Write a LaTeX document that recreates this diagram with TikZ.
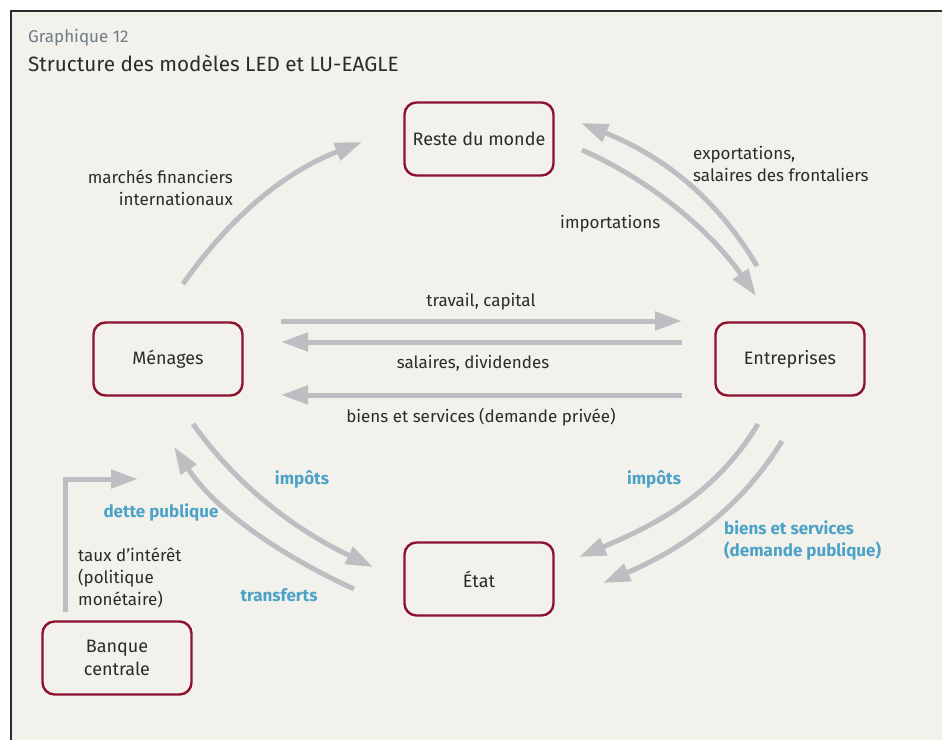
\documentclass[tikz,border=0pt]{standalone}
\usepackage{fontspec}
\setmainfont{Fira Sans}
\usepackage{xcolor}
\usetikzlibrary{arrows.meta,positioning}

\definecolor{fond}{HTML}{F2F1EB}
\definecolor{bordeaux}{HTML}{8C1230}
\definecolor{gris}{HTML}{BDBEC1}
\definecolor{bleu}{HTML}{4DA2C8}
\definecolor{encre}{HTML}{2B2B2B}
\definecolor{grisbleu}{HTML}{6F7C86}

\tikzset{
  boite/.style={rectangle,rounded corners=12pt,draw=bordeaux,line width=2.4pt,
    minimum width=149pt,minimum height=73pt,align=center,text=encre,
    font=\fontsize{18}{23}\selectfont},
  fleche/.style={draw=gris,line width=5pt,-{Triangle[length=27pt,width=18pt]}},
  texte/.style={text=encre,font=\fontsize{17}{22}\selectfont,inner sep=0pt},
  texteb/.style={text=bleu,font=\fontsize{17}{22}\selectfont\bfseries,inner sep=0pt}
}

\begin{document}
\begin{tikzpicture}[x=1pt,y=-1pt]
\useasboundingbox (0,0) rectangle (942,740);
\fill[white] (0,0) rectangle (942,740);
\fill[fond] (11,11) rectangle (942,740);
\draw[line width=2.5pt,encre] (11,740) -- (11,11) -- (942,11);

% titre
\node[anchor=west,text=grisbleu,font=\fontsize{17}{18}\selectfont,inner sep=0pt] (num) at (28,38) {Graphique 12};
\node[anchor=west,text=encre,font=\fontsize{20.7}{22}\selectfont,inner sep=0pt] (titre) at (28,63) {Structure des modèles LED et LU-EAGLE};

% acteurs
\node[boite] (rm) at (479,139) {Reste du monde};
\node[boite] (men) at (168,359) {Ménages};
\node[boite] (ent) at (790,359) {Entreprises};
\node[boite] (etat) at (479,579) {État};
\node[boite] (bc) at (117,658) {Banque\\centrale};

% extremites des fleches
\coordinate (a1) at (183,284);  \coordinate (b1) at (362,142);
\coordinate (a2) at (757,266);  \coordinate (b2) at (581,123);
\coordinate (a3) at (582,150);  \coordinate (b3) at (756,296);
\coordinate (a4) at (281,321);  \coordinate (b4) at (682,321);
\coordinate (a5) at (682,342);  \coordinate (b5) at (281,342);
\coordinate (a6) at (682,395);  \coordinate (b6) at (281,395);
\coordinate (a7) at (758,424);  \coordinate (b7) at (579,557);
\coordinate (a8) at (782,441);  \coordinate (b8) at (603,583);
\coordinate (a9) at (193,424);  \coordinate (b9) at (373,567);
\coordinate (a10) at (354,589); \coordinate (b10) at (174,447);
\coordinate (a11) at (65,612);  \coordinate (c11) at (65,479); \coordinate (b11) at (138,479);

% flux
\draw[fleche] (a1) .. controls (235,210) and (290,170) .. (b1);
\draw[fleche] (a2) .. controls (715,195) and (660,155) .. (b2);
\draw[fleche] (a3) .. controls (650,180) and (710,230) .. (b3);
\draw[fleche] (a4) -- (b4);
\draw[fleche] (a5) -- (b5);
\draw[fleche] (a6) -- (b6);
\draw[fleche] (a7) .. controls (715,495) and (655,525) .. (b7);
\draw[fleche] (a8) .. controls (740,510) and (680,550) .. (b8);
\draw[fleche] (a9) .. controls (240,490) and (300,532) .. (b9);
\draw[fleche] (a10) .. controls (280,555) and (215,510) .. (b10);
\draw[fleche] (a11) -- (c11) -- (b11);

% etiquettes
\node[texte,align=right,anchor=east] (lmf) at (233,188) {marchés financiers\\internationaux};
\node[texte,align=left,anchor=west] (lexp) at (693,164) {exportations,\\salaires des frontaliers};
\node[texte,anchor=west] (limp) at (560,224) {importations};
\node[texte] (ltc) at (481,302) {travail, capital};
\node[texte] (lsd) at (473,363) {salaires, dividendes};
\node[texte] (lbs) at (481,417) {biens et services (demande privée)};
\node[texteb] (limpg) at (302,479) {impôts};
\node[texteb] (limpd) at (654,479) {impôts};
\node[texteb,align=left,anchor=west] (lbsp) at (724,540) {biens et services\\(demande publique)};
\node[texteb] (ldp) at (161,512) {dette publique};
\node[texteb] (ltr) at (279,595) {transferts};
\node[texte,align=left,anchor=west] (ltx) at (78,578) {taux d’intérêt\\(politique\\monétaire)};
\end{tikzpicture}
\end{document}
